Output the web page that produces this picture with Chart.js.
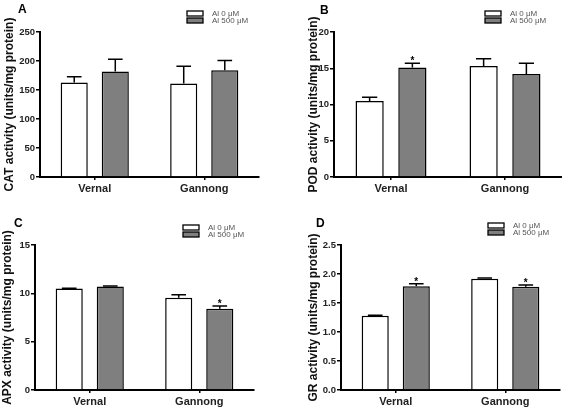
<!DOCTYPE html>
<html>
<head>
<meta charset="utf-8">
<script src="https://cdn.jsdelivr.net/npm/chart.js@4.4.1/dist/chart.umd.min.js"></script>
<style>
  body { margin: 0; background: #fff; }
  #wrap { position: relative; width: 562px; height: 414px; overflow: hidden; }
  .panel { position: absolute; width: 281px; height: 207px; }
</style>
</head>
<body>
<div id="wrap">
  <div class="panel" style="left:0;top:0"><canvas id="chartA"></canvas></div>
  <div class="panel" style="left:281px;top:0"><canvas id="chartB"></canvas></div>
  <div class="panel" style="left:0;top:207px"><canvas id="chartC"></canvas></div>
  <div class="panel" style="left:281px;top:207px"><canvas id="chartD"></canvas></div>
</div>
<script>
// data (mean + upper SE bar)
const categories = ['Vernal', 'Gannong'];
const seriesLabels = ['Al 0 μM', 'Al 500 μM'];

const catAl0 = [163, 161];
const catAl0Err = [10, 30];
const catAl500 = [182, 184];
const catAl500Err = [21, 17];
const catAl500Star = [false, false];

const podAl0 = [10.5, 15.3];
const podAl0Err = [0.5, 1.0];
const podAl500 = [15.1, 14.2];
const podAl500Err = [0.6, 1.5];
const podAl500Star = [true, false];

const apxAl0 = [10.5, 9.55];
const apxAl0Err = [0.03, 0.3];
const apxAl500 = [10.7, 8.4];
const apxAl500Err = [0.06, 0.3];
const apxAl500Star = [false, true];

const grAl0 = [1.28, 1.92];
const grAl0Err = [0.01, 0.01];
const grAl500 = [1.79, 1.78];
const grAl500Err = [0.04, 0.03];
const grAl500Star = [true, true];

const FONT = 'Arial, "Liberation Sans", sans-serif';

// error bars + significance stars
const errorBars = {
	id: 'errorBars',
	afterDatasetsDraw: (chart) => {
		const {ctx, scales} = chart;
		chart.data.datasets.forEach((ds, i) => {
			const meta = chart.getDatasetMeta(i);
			meta.data.forEach((bar, j) => {
				const err = ds.errors ? ds.errors[j] : 0;
				const yTop = scales.y.getPixelForValue(ds.data[j] + err);
				const half = bar.width * 0.27;
				ctx.save();
				ctx.strokeStyle = '#000';
				ctx.lineWidth = 1.5;
				ctx.beginPath();
				ctx.moveTo(bar.x, bar.y);
				ctx.lineTo(bar.x, yTop);
				ctx.moveTo(bar.x - half, yTop);
				ctx.lineTo(bar.x + half, yTop);
				ctx.stroke();
				if (ds.stars && ds.stars[j]) {
					ctx.fillStyle = '#000';
					ctx.font = 'bold 10px ' + FONT;
					ctx.textAlign = 'center';
					ctx.textBaseline = 'alphabetic';
					ctx.fillText('*', bar.x, yTop + 1);
				}
				ctx.restore();
			});
		});
	}
};

// small GraphPad-style legend and panel letter
const panelDecor = {
	id: 'panelDecor',
	afterDraw: (chart, args, opts) => {
		const {ctx} = chart;
		ctx.save();
		ctx.fillStyle = '#000';
		ctx.font = 'bold 12px ' + FONT;
		ctx.textBaseline = 'middle';
		ctx.textAlign = 'left';
		ctx.fillText(opts.letter, opts.letterX, opts.letterY);
		chart.data.datasets.forEach((ds, i) => {
			const y = opts.legendY + i * 7;
			ctx.fillStyle = ds.backgroundColor;
			ctx.strokeStyle = '#000';
			ctx.lineWidth = 1.3;
			ctx.fillRect(opts.legendX, y, 16, 5);
			ctx.strokeRect(opts.legendX, y, 16, 5);
			ctx.fillStyle = '#555';
			ctx.font = '8px ' + FONT;
			ctx.fillText(ds.label, opts.legendX + 25, y + 3);
		});
		ctx.restore();
	}
};

function makePanel(id, setup) {
	const fixY = (scale) => { scale.width = setup.axisX - setup.padLeft; };
	const fixX = (scale) => { scale.height = 207 - setup.bottom; };
	return new Chart(document.getElementById(id), {
		type: 'bar',
		data: {
			labels: categories,
			datasets: [{
				label: seriesLabels[0],
				data: setup.a,
				errors: setup.aErr,
				backgroundColor: '#ffffff',
				borderColor: '#000',
				borderWidth: 1.5,
				borderSkipped: 'bottom'
			}, {
				label: seriesLabels[1],
				data: setup.b,
				errors: setup.bErr,
				stars: setup.bStar,
				backgroundColor: '#7f7f7f',
				borderColor: '#000',
				borderWidth: 1.5,
				borderSkipped: 'bottom'
			}]
		},
		options: {
			responsive: true,
			maintainAspectRatio: false,
			animation: false,
			categoryPercentage: 0.75,
			barPercentage: 0.66,
			layout: {padding: {top: setup.top, right: 281 - setup.right, bottom: 0, left: setup.padLeft}},
			plugins: {
				legend: {display: false},
				tooltip: {enabled: false},
				panelDecor: setup.decor
			},
			scales: {
				x: {
					afterFit: fixX,
					grid: {offset: false, drawOnChartArea: false, drawTicks: true, tickLength: 3, color: '#000', lineWidth: 1.5},
					border: {display: true, color: '#000', width: 2},
					ticks: {color: '#222', padding: 2, font: {family: FONT, size: 11, weight: 'bold'}}
				},
				y: {
					min: 0,
					max: setup.max,
					afterFit: fixY,
					grid: {drawOnChartArea: false, drawTicks: true, tickLength: 4, color: '#000', lineWidth: 1.5},
					border: {display: true, color: '#000', width: 2},
					ticks: {
						stepSize: setup.step,
						padding: 1,
						color: '#222',
						font: {family: FONT, size: 9.5, weight: 'bold'},
						callback: setup.fmt
					},
					title: {
						display: true,
						text: setup.title,
						color: '#111',
						padding: 0,
						font: {family: FONT, size: 12, weight: 'bold'}
					}
				}
			}
		},
		plugins: [errorBars, panelDecor]
	});
}

makePanel('chartA', {
	a: catAl0, aErr: catAl0Err, b: catAl500, bErr: catAl500Err, bStar: catAl500Star,
	max: 250, step: 50, title: 'CAT activity (units/mg protein)',
	padLeft: 2, axisX: 40, top: 32, bottom: 177, right: 259,
	decor: {letter: 'A', letterX: 18, letterY: 10, legendX: 187, legendY: 11}
});

makePanel('chartB', {
	a: podAl0, aErr: podAl0Err, b: podAl500, bErr: podAl500Err, bStar: podAl500Star,
	max: 20, step: 5, title: 'POD activity (units/mg protein)',
	padLeft: 25, axisX: 53, top: 32, bottom: 177, right: 281,
	decor: {letter: 'B', letterX: 39, letterY: 11, legendX: 204, legendY: 11}
});

makePanel('chartC', {
	a: apxAl0, aErr: apxAl0Err, b: apxAl500, bErr: apxAl500Err, bStar: apxAl500Star,
	max: 15, step: 5, title: 'APX activity (units/mg protein)',
	padLeft: 0, axisX: 35, top: 38, bottom: 183, right: 254,
	decor: {letter: 'C', letterX: 14, letterY: 17, legendX: 183, legendY: 18}
});

makePanel('chartD', {
	a: grAl0, aErr: grAl0Err, b: grAl500, bErr: grAl500Err, bStar: grAl500Star,
	max: 2.5, step: 0.5, title: 'GR activity (units/mg protein)',
	padLeft: 25, axisX: 60, top: 38, bottom: 183, right: 279,
	fmt: (v) => Number(v).toFixed(1),
	decor: {letter: 'D', letterX: 35, letterY: 17, legendX: 207, legendY: 16}
});
</script>
</body>
</html>
